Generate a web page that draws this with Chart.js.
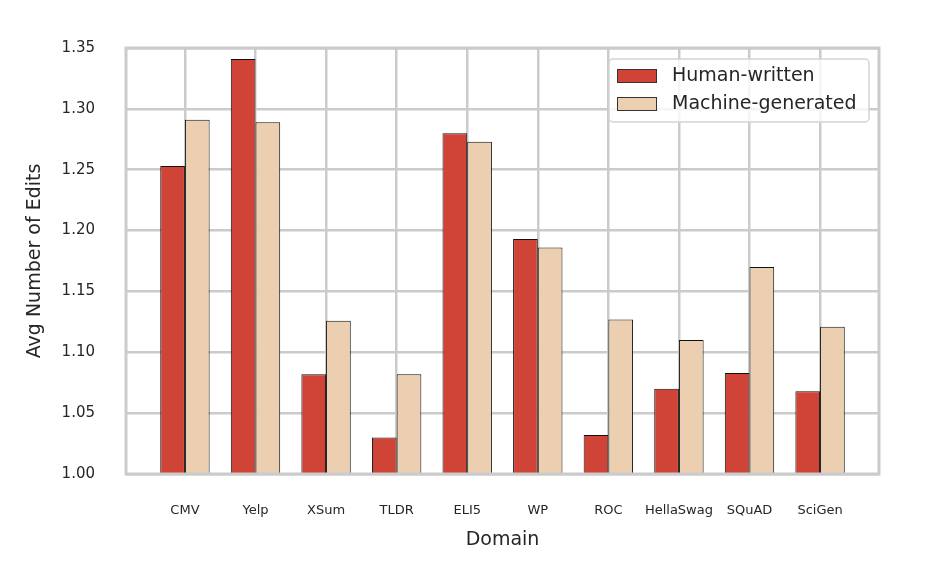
<!DOCTYPE html>
<html>
<head>
<meta charset="utf-8">
<script src="https://cdn.jsdelivr.net/npm/chart.js@4"></script>
<style>
  html, body { margin: 0; padding: 0; background: #fff; }
  #wrap { width: 944px; height: 588px; }
</style>
</head>
<body>
<div id="wrap"><canvas id="editsChart" width="944" height="588"></canvas></div>
<script>
// domains on the x axis
const domains = ['CMV', 'Yelp', 'XSum', 'TLDR', 'ELI5', 'WP', 'ROC', 'HellaSwag', 'SQuAD', 'SciGen'];

// avg number of edits
const humanWritten = [1.253, 1.341, 1.082, 1.030, 1.280, 1.193, 1.032, 1.070, 1.083, 1.068];
const machineGenerated = [1.291, 1.289, 1.126, 1.082, 1.273, 1.186, 1.127, 1.110, 1.170, 1.121];

const yTicks = [1.00, 1.05, 1.10, 1.15, 1.20, 1.25, 1.30, 1.35];

const FONT = "'DejaVu Sans', sans-serif";
const GRID = '#cbcbcb';

function toPoints(values) {
    return values.map((v, i) => ({x: i, y: v}));
}

// light grey frame round the plot, drawn over the bars like matplotlib spines
const framePlugin = {
    id: 'frame',
    afterDatasetsDraw(chart) {
        const {ctx, chartArea: a} = chart;
        ctx.save();
        ctx.strokeStyle = GRID;
        ctx.lineWidth = 3;
        ctx.strokeRect(a.left, a.top, a.right - a.left, a.bottom - a.top);
        ctx.restore();
    }
};

// boxed legend in the upper right corner of the plot
const boxLegendPlugin = {
    id: 'boxLegend',
    afterDraw(chart) {
        const {ctx, chartArea: a} = chart;
        const sets = chart.data.datasets;
        const w = 260, h = 63;
        const x = a.right - 10 - w, y = a.top + 11;
        const r = 4;
        ctx.save();
        ctx.beginPath();
        ctx.moveTo(x + r, y);
        ctx.lineTo(x + w - r, y);
        ctx.arcTo(x + w, y, x + w, y + r, r);
        ctx.lineTo(x + w, y + h - r);
        ctx.arcTo(x + w, y + h, x + w - r, y + h, r);
        ctx.lineTo(x + r, y + h);
        ctx.arcTo(x, y + h, x, y + h - r, r);
        ctx.lineTo(x, y + r);
        ctx.arcTo(x, y, x + r, y, r);
        ctx.closePath();
        ctx.fillStyle = 'rgba(255,255,255,0.8)';
        ctx.fill();
        ctx.strokeStyle = '#d4d4d4';
        ctx.lineWidth = 1.5;
        ctx.stroke();

        ctx.font = '19px ' + FONT;
        ctx.textBaseline = 'middle';
        ctx.textAlign = 'left';
        sets.forEach((ds, i) => {
            const cy = y + 17 + i * 28;
            ctx.fillStyle = ds.backgroundColor;
            ctx.fillRect(x + 8, cy - 7, 40, 14);
            ctx.strokeStyle = '#333';
            ctx.lineWidth = 1;
            ctx.strokeRect(x + 8.5, cy - 6.5, 39, 13);
            ctx.fillStyle = '#262626';
            ctx.fillText(ds.label, x + 63, cy);
        });
        ctx.restore();
    }
};

const ctx = document.getElementById('editsChart').getContext('2d');
const chart = new Chart(ctx, {
    type: 'bar',
    data: {
        datasets: [
            {
                label: 'Human-written',
                data: toPoints(humanWritten),
                backgroundColor: '#cf4436',
                borderColor: '#111',
                borderWidth: 1,
            },
            {
                label: 'Machine-generated',
                data: toPoints(machineGenerated),
                backgroundColor: '#ebcfb0',
                borderColor: '#111',
                borderWidth: 1,
            },
        ]
    },
    options: {
        responsive: false,
        animation: false,
        maintainAspectRatio: false,
        categoryPercentage: 0.7,
        barPercentage: 1.0,
        layout: {
            padding: {left: 0, right: 65, top: 48, bottom: 0}
        },
        plugins: {
            legend: {display: false},
            tooltip: {enabled: false}
        },
        scales: {
            x: {
                type: 'linear',
                min: -0.835,
                max: 9.835,
                offset: false,
                afterBuildTicks(scale) {
                    scale.ticks = domains.map((d, i) => ({value: i}));
                },
                afterFit(scale) {
                    scale.height = 114;
                },
                grid: {color: GRID, lineWidth: 2.5, drawTicks: false, offset: false},
                border: {display: false},
                ticks: {
                    padding: 29,
                    autoSkip: false,
                    maxRotation: 0,
                    color: '#262626',
                    font: {family: FONT, size: 13},
                    callback: (v) => domains[v] ?? ''
                },
                title: {
                    display: true,
                    text: 'Domain',
                    color: '#262626',
                    font: {family: FONT, size: 19},
                    padding: {top: 0, bottom: 37}
                }
            },
            y: {
                min: 1.0,
                max: 1.35,
                afterBuildTicks(scale) {
                    scale.ticks = yTicks.map(v => ({value: v}));
                },
                afterFit(scale) {
                    scale.width = 126;
                },
                grid: {color: GRID, lineWidth: 2.5, drawTicks: false},
                border: {display: false},
                ticks: {
                    padding: 31,
                    color: '#262626',
                    font: {family: FONT, size: 15},
                    callback: (v) => Number(v).toFixed(2)
                },
                title: {
                    display: true,
                    text: 'Avg Number of Edits',
                    color: '#262626',
                    font: {family: FONT, size: 19},
                    padding: {top: 24, bottom: 0}
                }
            }
        }
    },
    plugins: [framePlugin, boxLegendPlugin]
});
</script>
</body>
</html>
